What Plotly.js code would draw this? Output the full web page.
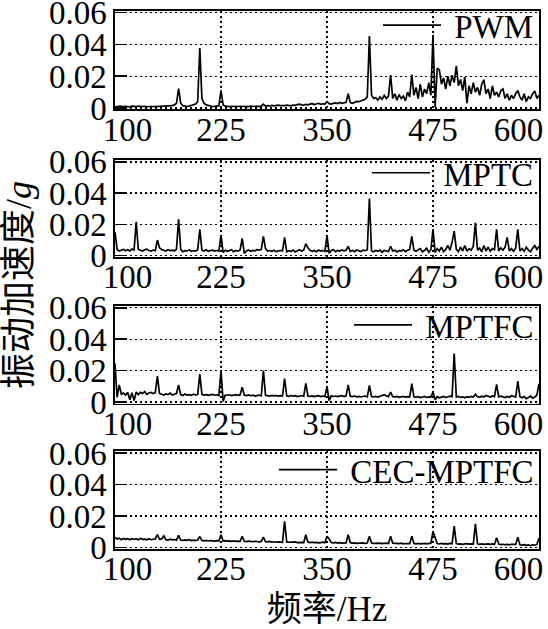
<!DOCTYPE html>
<html>
<head>
<meta charset="utf-8">
<script src="https://cdn.plot.ly/plotly-3.0.1.min.js"></script>
<style>html,body{margin:0;padding:0;background:#fff;}#chart{width:548px;height:629px;}</style>
</head>
<body>
<div id="chart"></div>
<script>
// Frequency axis (Hz)
const freq = [100,102.5,105,107.5,110,112.5,115,117.5,120,122.5,
125,127.5,130,132.5,135,137.5,140,142.5,145,147.5,
150,152.5,155,157.5,160,162.5,165,167.5,170,172.5,
175,177.5,180,182.5,185,187.5,190,192.5,195,197.5,
200,202.5,205,207.5,210,212.5,215,217.5,220,222.5,
225,227.5,230,232.5,235,237.5,240,242.5,245,247.5,
250,252.5,255,257.5,260,262.5,265,267.5,270,272.5,
275,277.5,280,282.5,285,287.5,290,292.5,295,297.5,
300,302.5,305,307.5,310,312.5,315,317.5,320,322.5,
325,327.5,330,332.5,335,337.5,340,342.5,345,347.5,
350,352.5,355,357.5,360,362.5,365,367.5,370,372.5,
375,377.5,380,382.5,385,387.5,390,392.5,395,397.5,
400,402.5,405,407.5,410,412.5,415,417.5,420,422.5,
425,427.5,430,432.5,435,437.5,440,442.5,445,447.5,
450,452.5,455,457.5,460,462.5,465,467.5,470,472.5,
475,477.5,480,482.5,485,487.5,490,492.5,495,497.5,
500,502.5,505,507.5,510,512.5,515,517.5,520,522.5,
525,527.5,530,532.5,535,537.5,540,542.5,545,547.5,
550,552.5,555,557.5,560,562.5,565,567.5,570,572.5,
575,577.5,580,582.5,585,587.5,590,592.5,595,597.5,
600];

// Vibration acceleration (g)
const pwm = [.001,.0008,.0012,.001,.0009,.0011,.001,.0008,.0012,.001,
.001,.0012,.0009,.001,.0011,.0008,.001,.0012,.001,.0009,
.001,.0011,.0009,.0012,.001,.0011,.0013,.0015,.002,.003,
.0123,.003,.0015,.0012,.001,.0012,.0015,.002,.0025,.004,
.0378,.006,.003,.002,.0015,.0012,.001,.0011,.0012,.0015,
.0112,.002,.0012,.001,.0009,.0011,.001,.0008,.001,.0011,
.001,.0012,.001,.0009,.0013,.0011,.001,.0012,.0009,.0012,
.0025,.0012,.0015,.0013,.0017,.0014,.0016,.0018,.0015,.0013,
.0015,.0018,.0016,.0014,.0019,.0017,.0022,.0025,.002,.0018,
.0023,.002,.0025,.0028,.0022,.0026,.003,.0024,.0027,.0025,
.004,.0028,.0025,.003,.0032,.0028,.0035,.003,.0033,.0036,
.009,.0035,.003,.0038,.0042,.004,.0045,.005,.0055,.007,
.0453,.008,.006,.0065,.005,.007,.0055,.008,.006,.0075,
.0207,.006,.009,.005,.0085,.006,.0075,.0045,.01,.007,
.021,.008,.013,.006,.015,.007,.012,.009,.016,.008,
.046,.0005,.025,.024,.015,.019,.012,.02,.014,.0207,
.016,.0266,.014,.018,.011,.0196,.003,.014,.009,.016,
.01,.013,.008,.015,.0178,.009,.012,.006,.014,.008,
.01,.007,.011,.012,.006,.009,.005,.008,.006,.009,
.011,.007,.005,.009,.004,.007,.006,.009,.0108,.006,
.008];

const mptc = [.015,.004,.003,.0035,.004,.0032,.0038,.003,.0042,.0036,
.0217,.004,.0035,.003,.0038,.0042,.0033,.003,.0036,.0032,
.01,.005,.004,.0035,.003,.0038,.0033,.0036,.003,.0042,
.0232,.004,.0025,.0032,.003,.0036,.0028,.0033,.003,.0038,
.0168,.0035,.003,.0038,.0028,.0033,.0036,.003,.0034,.0029,
.0132,.002,.0035,.0028,.0032,.0038,.0025,.0033,.0029,.0036,
.011,.0015,.003,.0036,.0028,.0034,.0031,.0038,.0035,.004,
.0123,.0045,.003,.0033,.0028,.0035,.0026,.0032,.0034,.003,
.0117,.0025,.0032,.0028,.0036,.0024,.0033,.0038,.003,.0035,
.0077,.005,.0035,.0028,.0033,.0025,.0036,.003,.0034,.0027,
.013,.0015,.0033,.0038,.0025,.0034,.0029,.0036,.0031,.0035,
.006,.0028,.0034,.0025,.0036,.003,.0027,.0035,.0032,.0038,
.0366,.003,.0025,.0033,.0028,.0036,.0022,.0034,.003,.0027,
.006,.003,.0035,.0024,.0033,.0029,.0038,.0026,.0034,.004,
.0123,.0035,.0028,.0036,.0045,.0025,.0033,.0048,.0022,.0038,
.017,.002,.0045,.003,.0055,.0025,.004,.0065,.0035,.0085,
.0157,.004,.0025,.0055,.003,.0065,.0028,.0045,.0035,.006,
.021,.0035,.0048,.0025,.0065,.003,.0055,.0028,.0045,.0038,
.0168,.003,.005,.0035,.0055,.0117,.003,.0045,.0028,.005,
.0168,.003,.0045,.0028,.0055,.0035,.0025,.0048,.0065,.004,
.006];

const mptfc = [.0246,.003,.011,.005,.0058,.0045,.0062,.0015,.006,.001,
.0065,.0048,.0062,.0055,.0068,.005,.0058,.0062,.0055,.006,
.0166,.0055,.005,.0045,.0052,.0048,.0058,.0045,.005,.0055,
.011,.0048,.0042,.0052,.0045,.0048,.0044,.005,.0046,.0049,
.0179,.005,.0045,.0048,.0043,.0046,.0049,.0044,.0047,.0042,
.02,.0005,.0045,.0044,.0047,.0042,.0045,.0048,.0043,.0046,
.0095,.0045,.0042,.0046,.0041,.0044,.0039,.0043,.0045,.004,
.02,.0044,.0041,.0039,.0043,.004,.0042,.0038,.0041,.0039,
.015,.004,.0037,.0042,.0038,.0041,.0036,.0039,.0042,.0037,
.012,.0039,.0036,.004,.0035,.0038,.0041,.0036,.0039,.0035,
.0099,.001,.004,.0036,.0039,.0035,.0038,.0042,.0036,.004,
.011,.0038,.0035,.0039,.0034,.0037,.0033,.0036,.0039,.0034,
.0106,.0036,.0033,.0037,.0032,.0038,.0042,.0048,.0039,.0035,
.0064,.0035,.0033,.0036,.0031,.0034,.0037,.0032,.0035,.0033,
.0117,.0034,.0031,.0035,.0029,.0033,.0036,.003,.0034,.0032,
.0064,.0015,.0035,.0028,.0033,.0037,.003,.0034,.0038,.0035,
.0309,.0032,.0036,.003,.0034,.0028,.0035,.0031,.0037,.0033,
.005,.0036,.0031,.0038,.0033,.0042,.0036,.0032,.0039,.0035,
.0113,.0034,.0038,.0033,.0029,.0036,.0031,.0041,.0035,.0032,
.0134,.0035,.0028,.0036,.0022,.0033,.0038,.0025,.0032,.0045,
.0117];

const cecMptfc = [.0065,.0055,.006,.005,.0058,.0052,.0056,.005,.0057,.0053,
.0055,.005,.0058,.0052,.0054,.0049,.0056,.005,.0053,.0055,
.0083,.0052,.0055,.0075,.005,.0048,.0053,.0049,.0051,.0047,
.0077,.0048,.0045,.0049,.0046,.005,.0044,.0047,.0045,.0048,
.007,.0045,.0043,.0046,.0042,.0045,.0043,.0041,.0044,.0042,
.0081,.0042,.0044,.0041,.0043,.004,.0042,.0039,.0041,.004,
.0072,.004,.0038,.0041,.0039,.0037,.004,.0038,.0036,.0039,
.0066,.0038,.0036,.0039,.0035,.0037,.0034,.0036,.0035,.0034,
.0166,.0036,.0034,.0035,.0033,.0036,.0032,.0034,.0033,.0031,
.0081,.0035,.0032,.0034,.0031,.0033,.003,.0032,.0034,.0031,
.0072,.0055,.0032,.003,.0033,.0029,.0031,.0028,.003,.0029,
.0081,.0031,.0028,.003,.0027,.0029,.0028,.003,.0026,.0029,
.0072,.0029,.0027,.0028,.0026,.0028,.0025,.0027,.0028,.0026,
.0072,.0028,.0026,.0027,.0025,.0028,.0024,.0026,.0027,.0025,
.0072,.0026,.0024,.0027,.0023,.0025,.0027,.0024,.0026,.0028,
.0102,.0065,.0026,.0024,.0027,.0023,.0025,.0022,.0026,.0024,
.0136,.0025,.0022,.0024,.0021,.0023,.0025,.0022,.0024,.0021,
.0151,.0024,.0021,.0023,.002,.0022,.0024,.0021,.0023,.002,
.0062,.0022,.0019,.0021,.0018,.002,.0017,.0021,.0019,.002,
.0066,.0018,.0016,.0019,.0014,.0017,.0012,.0018,.0015,.002,
.006];

const seriesNames = ['PWM','MPTC','MPTFC','CEC-MPTFC'];
const xTickVals = [100,225,350,475,600];
const xTickText = ['\u00a0\u00a0\u00a0100','225','350','475','600\u00a0\u00a0\u00a0\u00a0\u00a0'];
const yTickVals = [0,0.02,0.04,0.06];
const yTickText = ['0','0.02','0.04','0.06'];
const xTitle = '频率/Hz';
const yTitle = '振动加速度/<i>g</i>';

const allSeries = [pwm, mptc, mptfc, cecMptfc];
const SERIF = 'Liberation Serif';
const MIXED = 'Liberation Serif, Noto Sans CJK SC';

const domains = [[0.8154,0.999],[0.5416,0.7219],[0.2698,0.4514],[0,0.1818]];
const legendY = [0.972,0.698,0.4156,0.147];

const traces = allSeries.map((vals, i) => ({
  x: freq, y: vals, type: 'scatter', mode: 'lines',
  name: '\u00a0' + seriesNames[i],
  line: {color: '#000', width: 1.7},
  xaxis: i === 0 ? 'x' : 'x' + (i + 1),
  yaxis: i === 0 ? 'y' : 'y' + (i + 1),
  legend: i === 0 ? 'legend' : 'legend' + (i + 1),
  showlegend: true
}));

const layout = {
  width: 548, height: 629,
  margin: {l: 115, r: 9, t: 10, b: 80, autoexpand: false},
  paper_bgcolor: '#fff', plot_bgcolor: '#fff',
  font: {family: SERIF, size: 33, color: '#000'},
  showlegend: true,
  annotations: [{
    text: yTitle, xref: 'paper', yref: 'paper', x: -0.226, y: 0.49,
    textangle: -90, showarrow: false, font: {family: MIXED, size: 36, color: '#000'},
    xanchor: 'center', yanchor: 'middle'
  }]
};

for (let i = 0; i < 4; i++) {
  const sfx = i === 0 ? '' : String(i + 1);
  layout['xaxis' + sfx] = {
    domain: [0, 1], anchor: 'y' + sfx, range: [100, 600],
    tickmode: 'array', tickvals: xTickVals, ticktext: xTickText,
    ticks: '', ticklabeloverflow: 'allow', ticklabelstandoff: -10,
    showline: true, mirror: true, linecolor: '#000', linewidth: 1.6,
    showgrid: true, gridcolor: '#000', griddash: '2px,3px', gridwidth: 1.4,
    zeroline: false, automargin: false, tickfont: {family: SERIF, size: 33, color: '#000'},
    title: i === 3 ? {text: xTitle, font: {family: MIXED, size: 35, color: '#000'}, standoff: 26} : undefined
  };
  layout['yaxis' + sfx] = {
    domain: domains[i], anchor: 'x' + sfx, range: [-0.0009, 0.0613],
    tickmode: 'array', tickvals: yTickVals, ticktext: yTickText,
    ticks: 'inside', ticklen: 12, tickwidth: 1.6, tickcolor: '#000',
    ticklabeloverflow: 'allow',
    showline: true, mirror: true, linecolor: '#000', linewidth: 1.6,
    showgrid: true, gridcolor: '#000', griddash: '2px,3px', gridwidth: 1.4,
    zeroline: false, automargin: false, tickfont: {family: SERIF, size: 33, color: '#000'}
  };
  layout['legend' + sfx] = {
    x: 1, xanchor: 'right', xref: 'paper',
    y: legendY[i], yanchor: 'middle', yref: 'paper',
    bgcolor: 'rgba(0,0,0,0)', borderwidth: 0, itemwidth: 58,
    font: {family: SERIF, size: 33, color: '#000'}
  };
}

Plotly.newPlot('chart', traces, layout, {displayModeBar: false, staticPlot: true});
</script>
</body>
</html>
